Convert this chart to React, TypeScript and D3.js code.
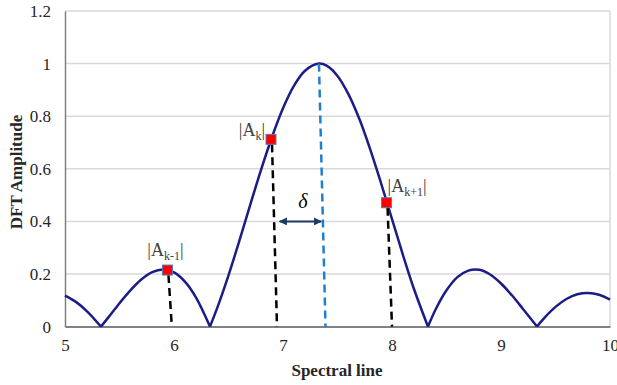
import * as d3 from "d3";
import React, { useRef, useEffect } from "react";

// curve, split at the zero crossings
const spectralX = [5.0, 5.1, 5.2, 5.33, 5.4, 5.5, 5.6, 5.7, 5.8, 5.9, 6.0, 6.1, 6.2, 6.33, 6.4, 6.5, 6.6, 6.7, 6.8, 6.9, 7.0, 7.1, 7.2, 7.33, 7.4, 7.5, 7.6, 7.7, 7.8, 7.9, 8.0, 8.1, 8.2, 8.33, 8.4, 8.5, 8.6, 8.7, 8.8, 8.9, 9.0, 9.1, 9.2, 9.33, 9.4, 9.5, 9.6, 9.7, 9.8, 9.9, 10.0];
const amplitude = [0.118, 0.094, 0.059, 0, 0.036, 0.089, 0.138, 0.179, 0.207, 0.217, 0.206, 0.171, 0.112, 0, 0.075, 0.195, 0.327, 0.464, 0.598, 0.722, 0.83, 0.915, 0.972, 1.0, 0.992, 0.953, 0.884, 0.79, 0.674, 0.545, 0.409, 0.273, 0.145, 0, 0.065, 0.138, 0.188, 0.213, 0.216, 0.198, 0.164, 0.119, 0.068, 0, 0.034, 0.075, 0.105, 0.123, 0.128, 0.121, 0.103];

const markerX = [5.94, 6.89, 7.95];
const markerY = [0.215, 0.712, 0.471];
const dropX = [5.98, 6.945, 8.0];
const markerSubs = ["k-1", "k", "k+1"];

const peakX = [7.33, 7.39];
const deltaRange = [6.97, 7.35];
const deltaY = 0.4;

const xTicks = [5, 6, 7, 8, 9, 10];
const yTicks = [0, 0.2, 0.4, 0.6, 0.8, 1, 1.2];

const App = () => {
	const svgRef = useRef(null);
	const WIDTH = 617;
	const HEIGHT = 385;

	useEffect(() => {
		const svg = d3.select(svgRef.current);
		svg.selectAll("*").remove();

		const x = d3.scaleLinear().domain([5, 10]).range([65, 610]);
		const y = d3.scaleLinear().domain([0, 1.2]).range([326.6, 11]);
		const font = "'Liberation Serif', 'Times New Roman', serif";

		// grid
		svg
			.append("g")
			.selectAll("line")
			.data(yTicks.filter((v) => v > 0))
			.join("line")
			.attr("x1", x(5))
			.attr("x2", x(10))
			.attr("y1", (d) => y(d))
			.attr("y2", (d) => y(d))
			.attr("stroke", "#d9d9d9")
			.attr("stroke-width", 1.5);
		svg.append("line").attr("x1", x(10)).attr("x2", x(10)).attr("y1", y(0)).attr("y2", y(1.2)).attr("stroke", "#d9d9d9").attr("stroke-width", 1.5);

		const yAxis = svg
			.append("g")
			.attr("transform", `translate(${x(5)},0)`)
			.call(d3.axisLeft(y).tickValues(yTicks).tickSize(0).tickPadding(14).tickFormat(d3.format("~g")))
			.attr("font-family", font)
			.attr("font-size", 17);
		yAxis.select(".domain").attr("stroke", "#7f7f7f").attr("stroke-width", 1.5);
		yAxis.selectAll("text").attr("fill", "#262626");

		const xAxis = svg
			.append("g")
			.attr("transform", `translate(0,${y(0)})`)
			.call(d3.axisBottom(x).tickValues(xTicks).tickSize(0).tickPadding(12).tickFormat(d3.format("d")))
			.attr("font-family", font)
			.attr("font-size", 17);
		xAxis.select(".domain").attr("stroke", "#595959").attr("stroke-width", 1.5);
		xAxis.selectAll("text").attr("fill", "#262626");

		// titles
		svg.append("text").attr("x", 337).attr("y", 376).attr("text-anchor", "middle").attr("font-family", font).attr("font-weight", "bold").attr("font-size", 17).attr("fill", "#262626").text("Spectral line");
		svg.append("text").attr("transform", "translate(22,172) rotate(-90)").attr("text-anchor", "middle").attr("font-family", font).attr("font-weight", "bold").attr("font-size", 17).attr("fill", "#262626").text("DFT Amplitude");

		// curve: separate segments so the zeros stay sharp
		const pts = spectralX.map((v, i) => [v, amplitude[i]]);
		const segments = [];
		let cur = [];
		pts.forEach((p, i) => {
			cur.push(p);
			if (p[1] === 0 && i > 0) {
				segments.push(cur);
				cur = [p];
			}
		});
		segments.push(cur);
		const line = d3
			.line()
			.x((d) => x(d[0]))
			.y((d) => y(d[1]))
			.curve(d3.curveCatmullRom.alpha(0.5));
		svg
			.append("g")
			.selectAll("path")
			.data(segments)
			.join("path")
			.attr("d", line)
			.attr("fill", "none")
			.attr("stroke", "#1c1c86")
			.attr("stroke-width", 2.5)
			.attr("stroke-linejoin", "round");

		// drop lines
		markerX.forEach((mx, i) => {
			svg.append("line").attr("x1", x(mx) + 1).attr("y1", y(markerY[i]) + 5).attr("x2", x(dropX[i])).attr("y2", y(0)).attr("stroke", "#000").attr("stroke-width", 2.5).attr("stroke-dasharray", "8,5");
		});
		svg.append("line").attr("x1", x(peakX[0])).attr("y1", y(1)).attr("x2", x(peakX[1])).attr("y2", y(0)).attr("stroke", "#1f7fcf").attr("stroke-width", 2.5).attr("stroke-dasharray", "8,5");

		// delta arrow
		svg
			.append("defs")
			.append("marker")
			.attr("id", "arr")
			.attr("viewBox", "0 0 10 10")
			.attr("refX", 9)
			.attr("refY", 5)
			.attr("markerWidth", 4)
			.attr("markerHeight", 4)
			.attr("orient", "auto-start-reverse")
			.append("path")
			.attr("d", "M0,0L10,5L0,10z")
			.attr("fill", "#1f3864");
		svg.append("line").attr("x1", x(deltaRange[0])).attr("x2", x(deltaRange[1])).attr("y1", y(deltaY)).attr("y2", y(deltaY)).attr("stroke", "#1f3864").attr("stroke-width", 2).attr("marker-start", "url(#arr)").attr("marker-end", "url(#arr)");
		svg.append("text").attr("x", 303).attr("y", 208).attr("text-anchor", "middle").attr("font-family", font).attr("font-style", "italic").attr("font-size", 20).attr("fill", "#000").text("δ");

		// markers
		svg
			.append("g")
			.selectAll("rect")
			.data(markerX)
			.join("rect")
			.attr("x", (d) => x(d) - 5)
			.attr("y", (d, i) => y(markerY[i]) - 5)
			.attr("width", 10)
			.attr("height", 10)
			.attr("fill", "#ff0000")
			.attr("stroke", "#5b7bb0")
			.attr("stroke-width", 1);

		// labels
		const labelPos = [
			[x(markerX[0]) - 2, y(markerY[0]) - 14, "middle"],
			[x(markerX[1]) - 6, y(markerY[1]) - 3, "end"],
			[x(markerX[2]) + 1, y(markerY[2]) - 11, "start"],
		];
		markerSubs.forEach((sub, i) => {
			const t = svg
				.append("text")
				.attr("x", labelPos[i][0])
				.attr("y", labelPos[i][1])
				.attr("text-anchor", labelPos[i][2])
				.attr("font-family", font)
				.attr("font-size", 18)
				.attr("fill", "#404040");
			t.append("tspan").text("|A");
			t.append("tspan").attr("font-size", 12).attr("dy", 4).text(sub);
			t.append("tspan").attr("dy", -4).text("|");
		});
	}, []);

	return <svg ref={svgRef} width={WIDTH} height={HEIGHT} viewBox={`0 0 ${WIDTH} ${HEIGHT}`} style={{ position: "absolute", left: 0, top: 0, background: "#fff" }} />;
};

export default App;
